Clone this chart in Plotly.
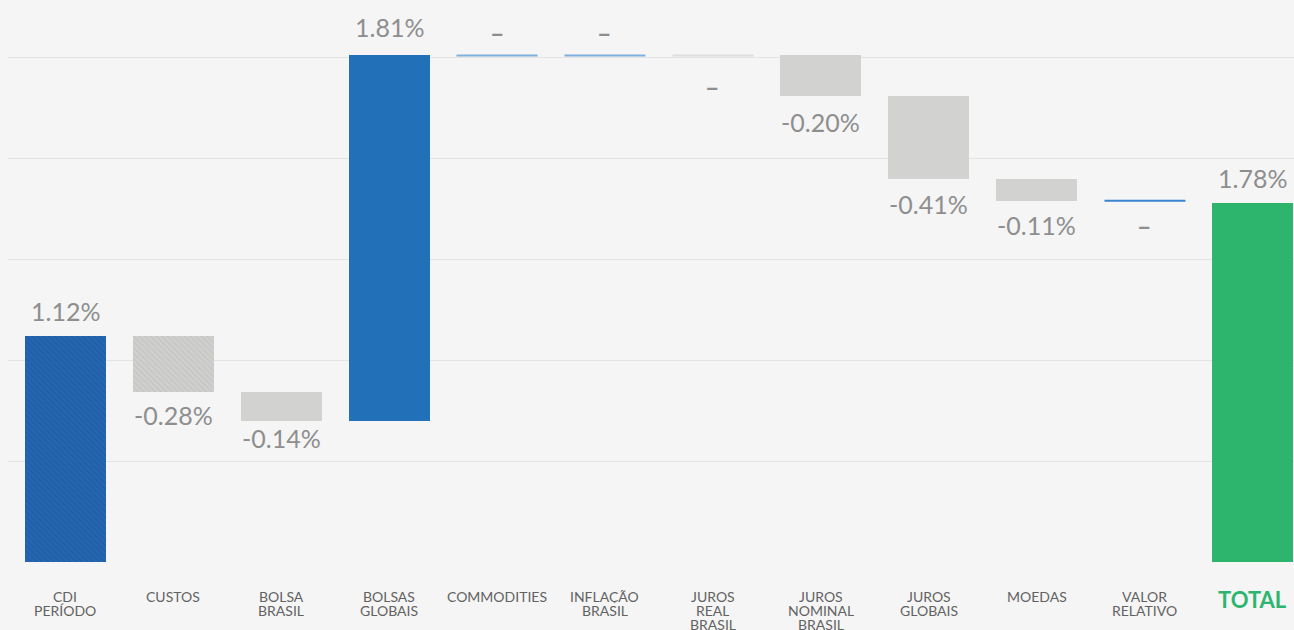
import plotly.graph_objects as go

categories = ["CDI<br>PERÍODO", "CUSTOS", "BOLSA<br>BRASIL", "BOLSAS<br>GLOBAIS", "COMMODITIES",
              "INFLAÇÃO<br>BRASIL", "JUROS<br>REAL<br>BRASIL", "JUROS<br>NOMINAL<br>BRASIL",
              "JUROS<br>GLOBAIS", "MOEDAS", "VALOR<br>RELATIVO", "TOTAL"]
values = [1.12, -0.28, -0.14, 1.81, 0.0, 0.0, 0.0, -0.20, -0.41, -0.11, 0.0]
total_value = 1.78
value_labels = ["1.12%", "-0.28%", "-0.14%", "1.81%", "–", "–", "–", "-0.20%", "-0.41%", "-0.11%", "–", "1.78%"]

BG = "#f5f5f5"
GRID = "#e3e3e3"
LABEL = "#8e8e8e"
BLUE = "#2170b8"
GRAY = "#d2d2d0"
GREEN = "#2db56e"
FONT = "Lato"

# per-category style
bar_colors = {0: "#2467b0", 1: "#d0d0ce", 2: GRAY, 3: BLUE, 7: GRAY, 8: GRAY, 9: GRAY, 11: GREEN}
patterns = {0: ("\\", "#1a549a", 0.35), 1: ("\\", "#bcbcba", 0.4)}
zero_colors = {4: "#7eb0e0", 5: "#7eb0e0", 6: "#dedede", 10: "#3d84d0"}
label_shift = {0: 8, 1: -6, 2: 0, 3: 11, 4: 6, 5: 6, 6: -14, 7: -9, 8: -8, 9: -7, 10: -7, 11: 8}

# cumulative waterfall
bars = []  # (index, base, value)
zero_levels = {}
running = 0.0
for i, v in enumerate(values):
    if v == 0:
        zero_levels[i] = running
    else:
        bars.append((i, running, v))
    running += v
n = len(values)
bars.append((n, 0.0, total_value))

fig = go.Figure()
for (i, b, v) in bars:
    marker = dict(color=bar_colors[i], line=dict(width=0))
    if i in patterns:
        shp, fg, sol = patterns[i]
        marker["pattern"] = dict(shape=shp, fgcolor=fg, bgcolor=bar_colors[i], size=4,
                                 solidity=sol, fillmode="overlay")
    fig.add_trace(go.Bar(x=[i], y=[v], base=[b], width=0.75, marker=marker,
                         hoverinfo="skip", showlegend=False))
    sh = label_shift[i]
    fig.add_annotation(x=i, y=b + v, text=value_labels[i], showarrow=False,
                       yanchor="bottom" if sh > 0 else "top", yshift=sh,
                       font=dict(family=FONT, size=25, color=LABEL))

half = 0.375
for i, lvl in zero_levels.items():
    fig.add_trace(go.Scatter(
        x=[i - half, i + half], y=[lvl, lvl], mode="lines",
        line=dict(color=zero_colors[i], width=2), hoverinfo="skip", showlegend=False))
    sh = label_shift[i]
    fig.add_annotation(x=i, y=lvl, text="<b>%s</b>" % value_labels[i], showarrow=False,
                       yanchor="bottom" if sh > 0 else "top", yshift=sh,
                       font=dict(family=FONT, size=25, color=LABEL))

# category labels, one annotation per line for tight line spacing
for i, cat in enumerate(categories):
    lines = cat.split("<br>")
    if i == n:
        fig.add_annotation(x=i, y=0, text="<b>%s</b>" % lines[0], showarrow=False,
                           yanchor="top", yshift=-22,
                           font=dict(family=FONT, size=22, color=GREEN))
        continue
    for k, line in enumerate(lines):
        fig.add_annotation(
            x=i, y=0, text=line, showarrow=False, height=14, valign="middle",
            yanchor="top", yshift=-25 - 14 * k,
            font=dict(family=FONT, size=14, color="#626262"))

fig.update_layout(
    width=1294, height=630,
    margin=dict(l=8, r=0, t=7, b=68),
    paper_bgcolor=BG, plot_bgcolor=BG,
    showlegend=False,
    bargap=0,
    xaxis=dict(range=[-0.528, 11.38], showticklabels=False,
               showgrid=False, zeroline=False, showline=False, ticks=""),
    yaxis=dict(range=[0, 2.75], tickvals=[0, 0.5, 1.0, 1.5, 2.0, 2.5], showticklabels=False,
               showgrid=True, gridcolor=GRID, gridwidth=1, zeroline=False, ticks=""),
)

fig.write_html("out.html", config={"displayModeBar": False},
               post_script="document.body.style.margin='0';")
